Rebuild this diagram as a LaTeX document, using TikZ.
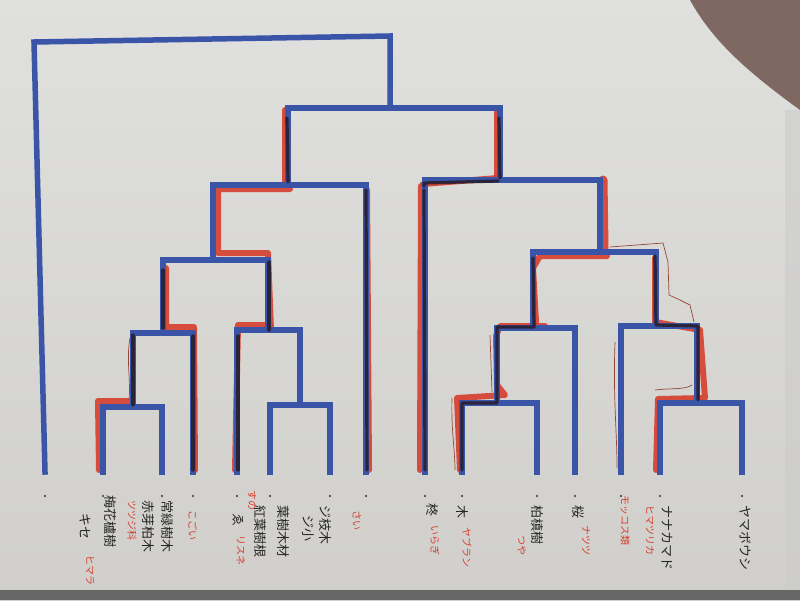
\documentclass[tikz,border=0pt]{standalone}
\usepackage{fontspec}
\newfontfamily\jp{Noto Sans CJK JP}
\definecolor{paperT}{RGB}{224,224,222}
\definecolor{paperB}{RGB}{208,207,203}
\definecolor{bl}{RGB}{58,84,168}
\definecolor{hl}{RGB}{214,62,46}
\definecolor{ink}{RGB}{40,28,40}
\definecolor{brn}{RGB}{150,70,55}
\definecolor{skin}{RGB}{128,104,98}
\tikzset{
  branch/.style={draw=bl,line width=5.5pt,line join=miter,line cap=rect},
  marker/.style={draw=hl,line width=6pt,line cap=round,line join=round,opacity=0.9},
  thickmarker/.style={draw=hl,line width=9pt,line cap=round,line join=round,opacity=0.9},
  overink/.style={draw=ink,line width=3.2pt,line cap=round,line join=round,opacity=0.85},
  pencil/.style={draw=brn,line width=0.7pt},
  leafdot/.style={fill=black!80,circle,inner sep=0pt,minimum size=2.2pt},
  blk/.style={text=black!85,font=\jp\fontsize{13}{13}\selectfont,rotate=-90,anchor=west,inner sep=0pt},
  red/.style={text=hl,font=\jp\fontsize{10}{10}\selectfont,rotate=-90,anchor=west,inner sep=0pt}
}
\begin{document}
\begin{tikzpicture}[x=1pt,y=-1pt]
\useasboundingbox (0,0) rectangle (800,600);
\shade[top color=paperT,bottom color=paperB] (0,0) rectangle (800,600);
\fill[skin] (690,0) .. controls (712,40) and (745,70) .. (800,110) -- (800,0) -- cycle;
\fill[black!20,opacity=0.6] (785,110) -- (800,110) -- (800,600) -- (785,600) -- cycle;
\fill[black!60] (0,590) rectangle (800,600);

% leaves
\coordinate (L1) at (45,472);
\coordinate (L2) at (103,472);
\coordinate (L3) at (162,472);
\coordinate (L4) at (193,472);
\coordinate (L5) at (237,472);
\coordinate (L6) at (270,472);
\coordinate (L7) at (330,472);
\coordinate (L8) at (366,472);
\coordinate (L9) at (425,472);
\coordinate (L10) at (462,472);
\coordinate (L11) at (537,472);
\coordinate (L12) at (575,472);
\coordinate (L13) at (621,472);
\coordinate (L14) at (660,472);
\coordinate (L15) at (742,472);
% internal nodes
\coordinate (A) at (133,407);
\coordinate (B) at (163,333);
\coordinate (C) at (300,405);
\coordinate (D) at (268,330);
\coordinate (E) at (213,260);
\coordinate (F) at (288,185);
\coordinate (G) at (497,403);
\coordinate (H) at (533,328);
\coordinate (I) at (697,403);
\coordinate (J) at (656,326);
\coordinate (K) at (600,252);
\coordinate (M) at (500,180);
\coordinate (N) at (390,108);
\coordinate (Rl) at (34,42);
\coordinate (Rr) at (390,36);

% red marker highlights (under)
\draw[marker] (285,110) -- (285,185);
\draw[marker] (497,112) -- (497,178);
\draw[marker] (423,184) -- (498,178);
\draw[marker] (290,189) -- (218,189) -- (218,253) -- (268,253) -- (271,330);
\draw[marker] (166,268) -- (166,327) -- (194,327) -- (195,470);
\draw[marker] (267,325) -- (238,325) -- (235,470);
\draw[marker] (133,401) -- (98,401) -- (99,470);
\draw[marker] (367,190) -- (369,470);
\draw[marker] (421,186) -- (420,470);
\draw[thickmarker] (603,180) -- (604,248);
\draw[marker] (607,256) -- (540,256) -- (533,268) -- (536,322);
\draw[marker] (545,326) -- (500,326) -- (496,336) -- (497,385) -- (505,395) -- (457,398) -- (460,470);
\draw[marker] (655,258) -- (655,322) -- (700,330) -- (705,398) -- (658,399) -- (656,470);

% blue dendrogram
\draw[branch] (L2) |- (A) -| (L3);
\draw[branch] (A) |- (B) -| (L4);
\draw[branch] (L6) |- (C) -| (L7);
\draw[branch] (L5) |- (D) -| (C);
\draw[branch] (B) |- (E) -| (D);
\draw[branch] (E) |- (F) -| (L8);
\draw[branch] (L10) |- (G) -| (L11);
\draw[branch] (G) |- (H) -| (L12);
\draw[branch] (L14) |- (I) -| (L15);
\draw[branch] (L13) |- (J) -| (I);
\draw[branch] (H) |- (K) -| (J);
\draw[branch] (L9) |- (M) -| (K);
\draw[branch] (F) |- (N) -| (M);
\draw[branch] (L1) -- (Rl) -- (Rr) -- (N);

% black ink overlays
\draw[overink] (287,118) -- (288,182);
\draw[overink] (499,118) -- (500,178);
\draw[overink] (424,186) -- (424,183) -- (498,181);
\draw[overink] (269,262) -- (269,330);
\draw[overink] (163,270) -- (163,328);
\draw[overink] (193,336) -- (193,470);
\draw[overink] (238,336) -- (238,470);
\draw[overink] (133,335) -- (133,405);
\draw[overink] (366,190) -- (367,470);
\draw[overink] (424,190) -- (425,470);
\draw[overink] (533,258) -- (534,327) -- (497,327) -- (497,403) -- (462,403) -- (462,470);
\draw[overink] (655,256) -- (656,325) -- (698,326) -- (698,400);

% pencil lines
\draw[pencil] (130,338) .. controls (126,360) and (131,380) .. (129,400);
\draw[pencil] (610,247) -- (663,243) -- (668,262) -- (669,295) -- (680,300) -- (690,305) -- (694,322);
\draw[pencil] (615,342) .. controls (613,400) and (617,430) .. (617,468);
\draw[pencil] (452,398) .. controls (451,430) and (455,450) .. (455,470);
\draw[pencil] (490,335) -- (492,392);
\draw[pencil] (655,390) .. controls (670,388) and (685,390) .. (692,385);

% leaf dots
\foreach \p/\q in {L1/45,L2/103,L3/162,L4/193,L5/237,L6/270,L7/330,L8/366,L9/425,L10/462,L11/537,L12/575,L13/621,L14/660,L15/742}
  \node[leafdot] (d\p) at (\q,496) {};

% labels
\node[blk] (t1) at (85,513) {キセ};
\node[red] (r1) at (90,555) {ヒマラ};
\node[blk] (t2) at (110,495) {梅花櫨樹};
\node[red] (r3) at (132,500) {ツツジ科};
\node[blk] (t3a) at (148,500) {赤芽柏木};
\node[blk] (t3b) at (167,500) {常緑樹木};
\node[red] (r4) at (193,510) {こごい};
\node[blk] (t5) at (238,513) {ゑ};
\node[red] (r5) at (241,535) {リスネ};
\node[red] (r6) at (252,490) {すの};
\node[blk] (t6a) at (260,505) {紅葉樹根};
\node[blk] (t6b) at (283,505) {葉樹木材};
\node[blk] (t7a) at (308,515) {ジ小};
\node[blk] (t7b) at (325,505) {ジ枝木};
\node[red] (r8) at (357,510) {さい};
\node[blk] (t9) at (432,503) {柊};
\node[red] (r9) at (435,525) {いらぎ};
\node[blk] (t10) at (462,505) {木};
\node[red] (r10) at (467,527) {ヤブラン};
\node[blk] (t11) at (537,505) {柏槙樹};
\node[red] (r11) at (522,535) {つや};
\node[blk] (t12) at (578,505) {桜};
\node[red] (r12) at (586,525) {ナツツ};
\node[red] (r13) at (625,495) {モッコス類};
\node[red] (r14) at (650,505) {ヒマツリカ};
\node[blk] (t14) at (667,505) {ナナカマド};
\node[blk] (t15) at (746,505) {ヤマボウシ};
\end{tikzpicture}
\end{document}
